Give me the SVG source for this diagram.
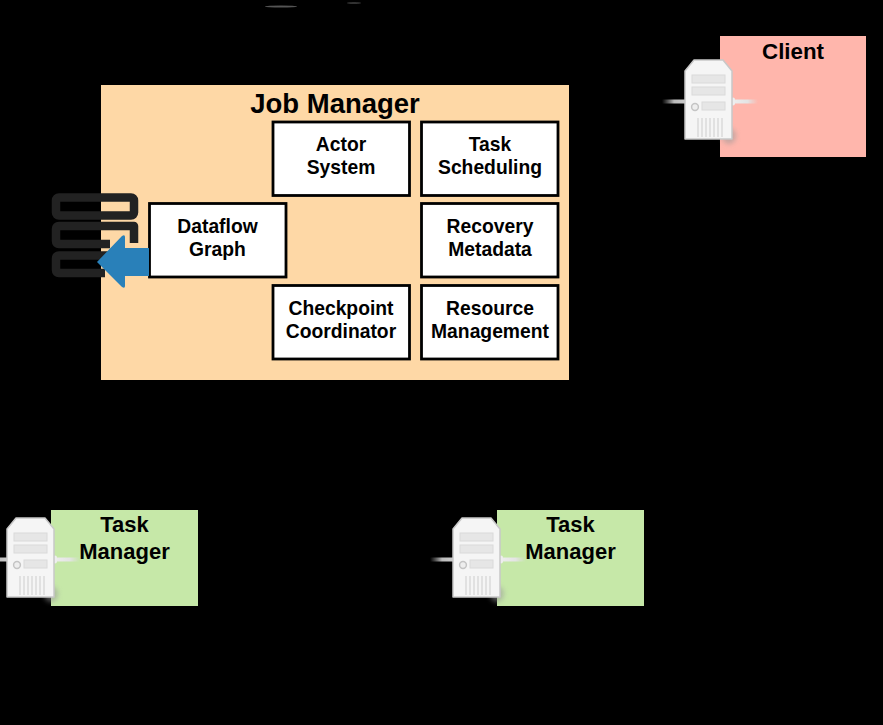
<svg xmlns="http://www.w3.org/2000/svg" width="883" height="725" viewBox="0 0 883 725">
<style>
text{font-family:"Liberation Sans",Arial,sans-serif;font-weight:bold;fill:#000;text-anchor:middle}
.box{fill:#fff;stroke:#000;stroke-width:2.8}
.t{font-size:19.300px}
.tm{font-size:22px}
.db{fill:none;stroke:#222;stroke-width:8.500;stroke-linejoin:round}
.slot{fill:#e6e6e6;stroke:#dadada;stroke-width:1}
</style>
<defs>
<filter id="b2" x="-50%" y="-100%" width="200%" height="300%"><feGaussianBlur stdDeviation="0.5"/></filter>
<filter id="b3" x="-50%" y="-50%" width="200%" height="200%"><feGaussianBlur stdDeviation="2.5"/></filter>
<linearGradient id="cl" x1="0" x2="1" y1="0" y2="0"><stop offset="0" stop-color="#aaa" stop-opacity="0"/><stop offset=".5" stop-color="#bbb"/><stop offset="1" stop-color="#ccc"/></linearGradient>
<linearGradient id="cr" x1="0" x2="1" y1="0" y2="0"><stop offset="0" stop-color="#eee"/><stop offset=".6" stop-color="#e4e4e4"/><stop offset="1" stop-color="#ddd" stop-opacity="0"/></linearGradient>
<symbol id="server" overflow="visible" viewBox="0 0 96 84" width="96" height="84">
<rect x="-23" y="39.500" width="24" height="4" fill="url(#cl)" filter="url(#b2)"/>
<rect x="47" y="39.500" width="26" height="4" fill="url(#cr)" filter="url(#b2)"/>
<ellipse cx="44" cy="76" rx="7" ry="8" fill="#999" opacity=".55" filter="url(#b3)"/>
<rect x="46" y="37.500" width="4" height="8" rx="2" fill="#eee"/>
<path d="M9 0H38L47 11V79H0V11Z" fill="#f5f5f5" stroke="#c8c8c8" stroke-width="1.5" stroke-linejoin="round"/>
<rect x="7" y="15" width="33" height="8" class="slot"/>
<rect x="7" y="27" width="33" height="8" class="slot"/>
<rect x="17" y="42" width="23" height="8" class="slot"/>
<circle cx="10" cy="47" r="3.400" fill="#eee" stroke="#c4c4c4" stroke-width="1.500"/>
<path d="M13 58v19M17 58v19M21 58v19M25 58v19M29 58v19M33 58v19M37 58v19" stroke="#d4d4d4" stroke-width="1.200"/>
</symbol>
</defs>
<rect width="883" height="725" fill="#000"/>
<g id="top-marks">
<ellipse cx="281" cy="6.500" rx="16" ry="1" fill="#555" filter="url(#b2)"/>
<ellipse cx="354" cy="3" rx="7" ry="1" fill="#333" filter="url(#b2)"/>
</g>
<g id="client">
<rect x="720" y="36" width="146" height="121" fill="#ffb6ac"/>
<text x="793" y="58.800" font-size="22.300">Client</text>
<use href="#server" x="685" y="60"/>
</g>
<g id="job-manager">
<rect x="101" y="85" width="468" height="295" fill="#fed8a6"/>
<text x="335" y="113" font-size="27.500">Job Manager</text>
</g>
<g id="database">
<rect x="56" y="197.500" width="78" height="18" rx="3" class="db"/>
<path class="db" d="M108 226H134V243M110 244H59Q56 244 56 241V229Q56 226 59 226H108"/>
<path class="db" d="M108 255.500H59Q56 255.500 56 258.500V270Q56 273 59 273H105"/>
</g>
<g id="actor-system">
<rect x="273" y="122" width="136.500" height="73.500" class="box"/>
<text x="341" y="151" class="t">Actor</text><text x="341" y="174" class="t">System</text>
</g>
<g id="task-scheduling">
<rect x="421.500" y="122" width="136.500" height="73.500" class="box"/>
<text x="490" y="151" class="t">Task</text><text x="490" y="174" class="t">Scheduling</text>
</g>
<g id="dataflow-graph">
<rect x="149.500" y="203.500" width="136.500" height="73.500" class="box"/>
<text x="217.500" y="233" class="t">Dataflow</text><text x="217.500" y="256" class="t">Graph</text>
</g>
<g id="recovery-metadata">
<rect x="421.500" y="203.500" width="136.500" height="73.500" class="box"/>
<text x="490" y="233" class="t">Recovery</text><text x="490" y="256" class="t">Metadata</text>
</g>
<g id="checkpoint-coordinator">
<rect x="273" y="285.500" width="136.500" height="73.500" class="box"/>
<text x="341" y="315" class="t">Checkpoint</text><text x="341" y="338" class="t">Coordinator</text>
</g>
<g id="resource-management">
<rect x="421.500" y="285.500" width="136.500" height="73.500" class="box"/>
<text x="490" y="315" class="t">Resource</text><text x="490" y="338" class="t">Management</text>
</g>
<g id="connectors">
<path d="M149 248V276H125V286Q125 289 122 287L97 262L122 236Q125 234 125 237V248Z" fill="#2980b9"/>
</g>
<g id="task-manager-1">
<rect x="51" y="510" width="147" height="96" fill="#c6e8a8"/>
<text x="124.500" y="532" class="tm">Task</text><text x="124.500" y="558.500" class="tm">Manager</text>
<use href="#server" x="7" y="518"/>
</g>
<g id="task-manager-2">
<rect x="497" y="510" width="147" height="96" fill="#c6e8a8"/>
<text x="570.500" y="532" class="tm">Task</text><text x="570.500" y="558.500" class="tm">Manager</text>
<use href="#server" x="453" y="518"/>
</g>
</svg>
